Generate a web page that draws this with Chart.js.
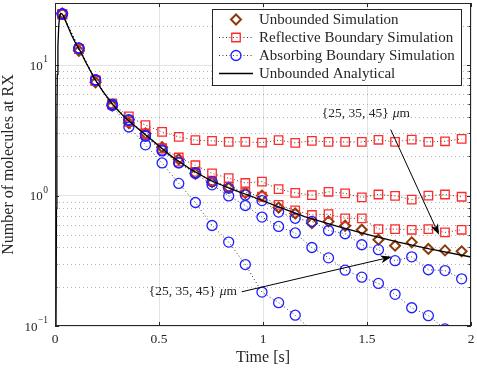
<!DOCTYPE html>
<html>
<head>
<meta charset="utf-8">
<script src="https://cdn.jsdelivr.net/npm/chart.js@4.4.0/dist/chart.umd.min.js"></script>
<style>
  html, body { margin: 0; padding: 0; background: #fff; }
</style>
</head>
<body>
<canvas id="rxChart" width="477" height="369"></canvas>
<script>
// sample times of the simulated points [s]
const sampleTimes = [0.035, 0.115, 0.195, 0.275, 0.355, 0.435, 0.515, 0.595, 0.675, 0.755, 0.835, 0.915, 0.995,
                     1.075, 1.155, 1.235, 1.315, 1.395, 1.475, 1.555, 1.635, 1.715, 1.795, 1.875, 1.955];

const unboundedSim = [25.0, 12.9, 7.4, 4.9, 3.6, 3.0, 2.35, 1.9, 1.47, 1.27, 1.15, 1.05, 1.0,
                      0.81, 0.73, 0.615, 0.634, 0.587, 0.547, 0.459, 0.413, 0.438, 0.39, 0.38, 0.374];

// reflective boundary at 25, 35, 45 um
const reflective25 = [24.6, 13.3, 7.6, 5.1, 4.05, 3.47, 3.08, 2.82, 2.66, 2.63, 2.58, 2.58, 2.55,
                      2.66, 2.54, 2.63, 2.58, 2.58, 2.58, 2.68, 2.58, 2.69, 2.58, 2.61, 2.72];
const reflective35 = [24.6, 13.3, 7.6, 5.0, 3.7, 3.0, 2.3, 1.96, 1.71, 1.48, 1.36, 1.25, 1.28,
                      1.12, 1.05, 1.01, 1.07, 1.04, 0.97, 1.02, 0.995, 0.93, 1.0, 1.02, 0.98];
const reflective45 = [24.6, 13.3, 7.6, 5.0, 3.7, 2.95, 2.3, 1.82, 1.52, 1.3, 1.17, 1.06, 0.98,
                      0.85, 0.77, 0.71, 0.72, 0.67, 0.67, 0.554, 0.554, 0.547, 0.554, 0.522, 0.547];

// absorbing boundary at 25, 35, 45 um
const absorbing25 = [24.7, 13.5, 7.7, 4.9, 3.36, 2.45, 1.78, 1.24, 0.885, 0.59, 0.44, 0.296, 0.182,
                     0.151, 0.121, 0.092];
const absorbing35 = [24.7, 13.5, 7.7, 5.0, 3.78, 2.85, 2.2, 1.78, 1.48, 1.21, 0.995, 0.84, 0.684,
                     0.58, 0.517, 0.40, 0.333, 0.268, 0.237, 0.212, 0.175, 0.138, 0.12, 0.095, 0.08];
const absorbing45 = [24.7, 13.5, 7.7, 5.0, 3.83, 2.9, 2.23, 1.79, 1.5, 1.28, 1.14, 1.01, 0.916,
                     0.747, 0.67, 0.633, 0.54, 0.51, 0.42, 0.385, 0.317, 0.339, 0.27, 0.266, 0.23];

// analytical curve
const analyticTimes = [0.004, 0.007, 0.009, 0.011, 0.014, 0.018, 0.022, 0.027, 0.033, 0.04, 0.05, 0.065,
                       0.08, 0.1, 0.12, 0.15, 0.19, 0.23, 0.28, 0.33, 0.4, 0.48, 0.56, 0.65, 0.75, 0.85,
                       0.95, 1.05, 1.2, 1.35, 1.5, 1.65, 1.8, 2.0];
const analyticValues = [0.05, 0.8, 3.5, 8.5, 14, 20, 23.5, 25, 24.8, 24, 22, 19.3,
                        17, 14.6, 13, 10.4, 7.9, 6.3, 4.95, 4.05, 3.25, 2.55, 2.0, 1.6, 1.3, 1.12,
                        0.98, 0.85, 0.69, 0.585, 0.505, 0.44, 0.39, 0.338];

// axis ticks
const xTicks = [0, 0.5, 1, 1.5, 2];
const xTickLabels = ['0', '0.5', '1', '1.5', '2'];
const yDecades = [0.1, 1, 10];
const yExponents = ['\u22121', '0', '1'];
const yMinor = [0.2, 0.3, 0.4, 0.5, 0.6, 0.7, 0.8, 0.9, 2, 3, 4, 5, 6, 7, 8, 9, 20];

const legendLabels = ['Unbounded Simulation', 'Reflective Boundary Simulation',
                      'Absorbing Boundary Simulation', 'Unbounded Analytical'];

// annotation text positions and arrows, in data units
const noteLabel = '{25, 35, 45}';
const notes = [
  { x: 1.495, y: 4.28, fromX: 1.614, fromY: 3.21, toX: 1.846, toY: 0.50 },
  { x: 0.663, y: 0.185, fromX: 0.898, fromY: 0.183, toX: 1.618, toY: 0.339 }
];

const textColor = '#262626';
const serif = '"Liberation Serif", "Times New Roman", serif';
const brown = '#8c3a0c';
const red = '#ff2a2a';
const blue = '#1f1fff';
const dotted = '#3a3a3a';

function toPoints(ts, vs) {
  return vs.map((v, i) => ({ x: ts[i], y: v }));
}

function reflectiveSet(values, label) {
  return {
    label: label,
    data: toPoints(sampleTimes, values),
    showLine: true,
    borderColor: dotted,
    borderWidth: 1,
    borderDash: [1, 2.5],
    pointStyle: 'rect',
    pointRadius: 6,
    pointBorderWidth: 1.3,
    pointBorderColor: red,
    pointBackgroundColor: 'rgba(0,0,0,0)',
    order: 3
  };
}

function absorbingSet(values, label) {
  return {
    label: label,
    data: toPoints(sampleTimes, values),
    showLine: true,
    borderColor: dotted,
    borderWidth: 1,
    borderDash: [1, 2.5],
    pointStyle: 'circle',
    pointRadius: 5,
    pointBorderWidth: 1.3,
    pointBorderColor: blue,
    pointBackgroundColor: 'rgba(0,0,0,0)',
    order: 2
  };
}

function arrow(ctx, x0, y0, x1, y1) {
  const ang = Math.atan2(y1 - y0, x1 - x0);
  const len = 11, half = 4, notch = 3;
  ctx.beginPath();
  ctx.moveTo(x0, y0);
  ctx.lineTo(x1 - Math.cos(ang) * (len - notch), y1 - Math.sin(ang) * (len - notch));
  ctx.stroke();
  const bx = x1 - Math.cos(ang) * len, by = y1 - Math.sin(ang) * len;
  const nx = -Math.sin(ang), ny = Math.cos(ang);
  ctx.beginPath();
  ctx.moveTo(x1, y1);
  ctx.lineTo(bx + nx * half, by + ny * half);
  ctx.lineTo(x1 - Math.cos(ang) * (len - notch), y1 - Math.sin(ang) * (len - notch));
  ctx.lineTo(bx - nx * half, by - ny * half);
  ctx.closePath();
  ctx.fill();
}

const decor = {
  id: 'decor',
  beforeDatasetsDraw(chart) {
    const { ctx, chartArea: a, scales: { y } } = chart;
    ctx.save();
    ctx.strokeStyle = 'rgba(120,120,120,0.55)';
    ctx.lineWidth = 1;
    ctx.setLineDash([1, 3]);
    yMinor.forEach(v => {
      const py = Math.round(y.getPixelForValue(v)) + 0.5;
      ctx.beginPath();
      ctx.moveTo(a.left, py);
      ctx.lineTo(a.right, py);
      ctx.stroke();
    });
    ctx.restore();
  },
  afterDraw(chart) {
    const { ctx, chartArea: a, scales: { x, y } } = chart;
    ctx.save();

    // axes box and inward ticks
    ctx.strokeStyle = textColor;
    ctx.lineWidth = 1;
    ctx.strokeRect(a.left + 0.5, a.top + 0.5, a.right - a.left - 1, a.bottom - a.top - 1);
    ctx.beginPath();
    xTicks.forEach(v => {
      const px = Math.round(x.getPixelForValue(v)) + 0.5;
      ctx.moveTo(px, a.bottom); ctx.lineTo(px, a.bottom - 4);
      ctx.moveTo(px, a.top); ctx.lineTo(px, a.top + 4);
    });
    yDecades.forEach(v => {
      const py = Math.round(y.getPixelForValue(v)) + 0.5;
      ctx.moveTo(a.left, py); ctx.lineTo(a.left + 4, py);
      ctx.moveTo(a.right, py); ctx.lineTo(a.right - 4, py);
    });
    yMinor.forEach(v => {
      const py = Math.round(y.getPixelForValue(v)) + 0.5;
      ctx.moveTo(a.left, py); ctx.lineTo(a.left + 2.5, py);
      ctx.moveTo(a.right, py); ctx.lineTo(a.right - 2.5, py);
    });
    ctx.stroke();

    // y tick labels 10^n
    ctx.fillStyle = textColor;
    ctx.textBaseline = 'alphabetic';
    ctx.textAlign = 'left';
    yDecades.forEach((v, i) => {
      const py = y.getPixelForValue(v);
      ctx.font = '9.5px ' + serif;
      const ew = ctx.measureText(yExponents[i]).width;
      ctx.font = '13px ' + serif;
      const bw = ctx.measureText('10').width;
      const right = a.left - 7;
      ctx.fillText('10', right - ew - bw - 0.5, py + 4.5);
      ctx.font = '9.5px ' + serif;
      ctx.fillText(yExponents[i], right - ew, py - 3);
    });

    // axis titles
    ctx.font = '16px ' + serif;
    ctx.textAlign = 'center';
    ctx.fillText('Time [s]', (a.left + a.right) / 2, 362);
    ctx.save();
    ctx.translate(13, (a.top + a.bottom) / 2);
    ctx.rotate(-Math.PI / 2);
    ctx.fillText('Number of molecules at RX', 0, 0);
    ctx.restore();

    // annotations
    ctx.lineWidth = 1;
    ctx.strokeStyle = '#000';
    ctx.fillStyle = '#000';
    notes.forEach(n => {
      ctx.font = '13.5px ' + serif;
      const w1 = ctx.measureText(noteLabel).width;
      ctx.font = 'italic 13.5px ' + serif;
      const w2 = ctx.measureText('\u03bc').width;
      ctx.font = '13.5px ' + serif;
      const w3 = ctx.measureText('m').width;
      const total = w1 + 4 + w2 + w3;
      let tx = x.getPixelForValue(n.x) - total / 2;
      const ty = y.getPixelForValue(n.y);
      ctx.textAlign = 'left';
      ctx.textBaseline = 'middle';
      ctx.fillStyle = textColor;
      ctx.fillText(noteLabel, tx, ty);
      tx += w1 + 4;
      ctx.font = 'italic 13.5px ' + serif;
      ctx.fillText('\u03bc', tx, ty);
      ctx.font = '13.5px ' + serif;
      ctx.fillText('m', tx + w2, ty);
      ctx.fillStyle = '#000';
      arrow(ctx, x.getPixelForValue(n.fromX), y.getPixelForValue(n.fromY),
            x.getPixelForValue(n.toX), y.getPixelForValue(n.toY));
    });

    // legend
    const lg = { left: 212.5, top: 9.5, width: 249, height: 76 };
    ctx.fillStyle = '#fff';
    ctx.fillRect(lg.left, lg.top, lg.width, lg.height);
    ctx.strokeStyle = textColor;
    ctx.strokeRect(lg.left, lg.top, lg.width, lg.height);
    const markers = [
      { style: 'rectRot', radius: 5, color: brown, width: 2, line: null },
      { style: 'rect', radius: 6, color: red, width: 1.3, line: [1, 2.5] },
      { style: 'circle', radius: 5, color: blue, width: 1.3, line: [1, 2.5] },
      { style: false, radius: 0, color: '#000', width: 0, line: [] }
    ];
    legendLabels.forEach((label, i) => {
      const ry = lg.top + 10 + 18 * i;
      const m = markers[i];
      if (m.line) {
        ctx.setLineDash(m.line);
        ctx.strokeStyle = m.line.length ? dotted : '#000';
        ctx.lineWidth = m.line.length ? 1 : 1.3;
        ctx.beginPath();
        ctx.moveTo(219, ry);
        ctx.lineTo(253, ry);
        ctx.stroke();
        ctx.setLineDash([]);
      }
      if (m.style) {
        ctx.strokeStyle = m.color;
        ctx.fillStyle = 'rgba(0,0,0,0)';
        ctx.lineWidth = m.width;
        Chart.helpers.drawPoint(ctx, { pointStyle: m.style, radius: m.radius, borderWidth: m.width, rotation: 0 }, 236, ry);
      }
      ctx.fillStyle = textColor;
      ctx.font = '15px ' + serif;
      ctx.textAlign = 'left';
      ctx.textBaseline = 'middle';
      ctx.fillText(label, 259, ry + 0.5);
    });

    ctx.restore();
  }
};

const ctx = document.getElementById('rxChart').getContext('2d');
const rxChart = new Chart(ctx, {
  type: 'scatter',
  data: {
    datasets: [
      {
        label: 'Unbounded Analytical',
        data: toPoints(analyticTimes, analyticValues),
        showLine: true,
        borderColor: '#000',
        borderWidth: 1.3,
        pointRadius: 0,
        order: 1
      },
      absorbingSet(absorbing25, 'Absorbing 25'),
      absorbingSet(absorbing35, 'Absorbing 35'),
      absorbingSet(absorbing45, 'Absorbing 45'),
      reflectiveSet(reflective25, 'Reflective 25'),
      reflectiveSet(reflective35, 'Reflective 35'),
      reflectiveSet(reflective45, 'Reflective 45'),
      {
        label: 'Unbounded Simulation',
        data: toPoints(sampleTimes, unboundedSim),
        showLine: false,
        pointStyle: 'rectRot',
        pointRadius: 5,
        pointBorderWidth: 2,
        pointBorderColor: brown,
        pointBackgroundColor: 'rgba(0,0,0,0)',
        order: 4
      }
    ]
  },
  options: {
    responsive: false,
    animation: false,
    clip: 0,
    layout: { autoPadding: false, padding: { top: 3, right: 6, left: 0, bottom: 0 } },
    plugins: {
      legend: { display: false },
      tooltip: { enabled: false }
    },
    scales: {
      x: {
        type: 'linear',
        min: 0,
        max: 2,
        afterFit: function (scale) {
          scale.height = 43;
          scale.paddingLeft = 0;
          scale.paddingRight = 0;
        },
        afterBuildTicks: function (scale) { scale.ticks = xTicks.map(v => ({ value: v })); },
        ticks: {
          padding: 5,
          color: textColor,
          font: { family: serif, size: 13.5 },
          maxRotation: 0,
          callback: function (value, index) { return xTickLabels[index]; }
        },
        grid: { color: '#e3e3e3', drawTicks: false },
        border: { display: false }
      },
      y: {
        type: 'logarithmic',
        min: 0.1,
        max: 30,
        afterFit: function (scale) {
          scale.width = 55;
          scale.paddingTop = 0;
          scale.paddingBottom = 0;
        },
        ticks: { display: false },
        grid: {
          drawTicks: false,
          color: function (c) {
            const lg = Math.log10(c.tick.value);
            return Math.abs(lg - Math.round(lg)) < 1e-6 ? '#e3e3e3' : 'rgba(0,0,0,0)';
          }
        },
        border: { display: false }
      }
    }
  },
  plugins: [decor]
});
</script>
</body>
</html>
